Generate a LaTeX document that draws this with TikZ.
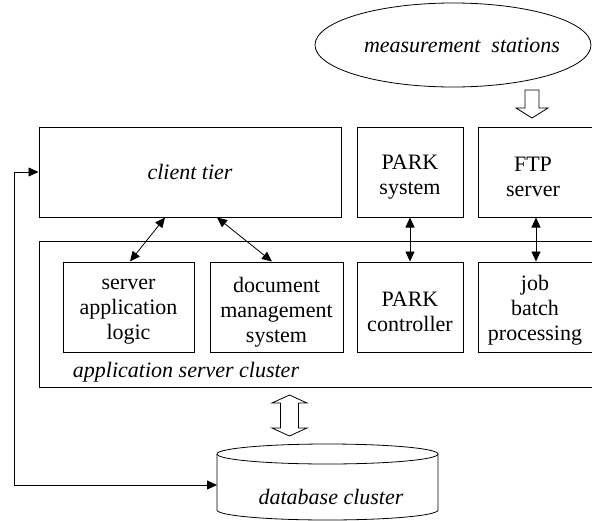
\documentclass[tikz,border=0pt]{standalone}
\usepackage{fontspec}
\setmainfont{Liberation Serif}
\usetikzlibrary{arrows.meta,shapes.geometric}
\begin{document}
\begin{tikzpicture}[x=1pt,y=-1pt,
  every node/.style={font=\fontsize{22}{25}\selectfont},
  box/.style={draw,line width=1pt,rectangle,inner sep=0pt},
  lbl/.style={align=center,inner sep=0pt},
  boxtext/.style={label={[lbl,yshift=-5pt]center:#1}},
  dar/.style={line width=0.8pt,{Triangle[length=10pt,width=9pt]}-{Triangle[length=10pt,width=9pt]}},
  hollow/.style={draw,line width=0.8pt,fill=white,line join=miter}]
\useasboundingbox (0,0) rectangle (592,520);

% top row
\node[box,minimum width=302pt,minimum height=90pt] (client) at (190,172) {\itshape client tier};
\node[box,minimum width=106pt,minimum height=90pt,boxtext={PARK\\system}] (parksys) at (410,172) {};
\node[box,minimum width=122pt,minimum height=90pt] (ftp) at (539,172) {};
\node[lbl] (ftptxt) at (533,177) {FTP\\server};

% application server cluster
\node[box,minimum width=561pt,minimum height=146pt] (cluster) at (319.5,314) {};
\node[lbl] (clustertxt) at (186,372) {\itshape application server cluster};
\node[box,minimum width=131pt,minimum height=90pt,boxtext={server\\application\\logic}] (sal) at (128.5,307) {};
\node[box,minimum width=133pt,minimum height=90pt,boxtext={document\\management\\system}] (dms) at (276.5,307) {};
\node[box,minimum width=106pt,minimum height=90pt,boxtext={PARK\\controller}] (parkctl) at (410,307) {};
\node[box,minimum width=122pt,minimum height=90pt] (job) at (539,307) {};
\node[lbl] (jobtxt) at (535,310) {job\\batch\\processing};

% measurement stations
\node[draw,line width=0.8pt,ellipse,minimum width=276pt,minimum height=84pt,inner sep=0pt] (meas) at (453,45) {};
\node[lbl] (meastxt) at (462,45) {\itshape measurement\ \ stations};

% database cluster (cylinder)
\draw[line width=0.8pt,fill=white] (217,454) -- (217,510) arc[start angle=180,end angle=360,x radius=110.5,y radius=-10] -- (438,454);
\draw[line width=0.8pt] (327.5,454) ellipse[x radius=110.5,y radius=10];
\coordinate (dbin) at (217,485);
\node[lbl] (dbtxt) at (331,497) {\itshape database cluster};

% connectors between tiers
\coordinate (c1) at (165,0);
\coordinate (c2) at (130,0);
\coordinate (c3) at (217,0);
\coordinate (c4) at (272,0);
\coordinate (c5) at (536,0);
\draw[dar] (client.south -| c1) -- (sal.north -| c2);
\draw[dar] (client.south -| c3) -- (dms.north -| c4);
\draw[dar] (parksys.south) -- (parkctl.north);
\draw[dar] (ftp.south -| c5) -- (job.north -| c5);
\draw[dar] (client.west) -- ++(-24,0) |- (dbin);

% hollow arrow: stations to FTP server
\draw[hollow] (525,90) -- (539,90) -- (539,108) -- (548,108) -- (532,118) -- (516,108) -- (525,108) -- cycle;

% hollow double arrow: cluster to database
\draw[hollow] (289.5,395) -- (307,403) -- (298.5,403) -- (298.5,428) -- (307,428) -- (289.5,436)
  -- (272,428) -- (280.5,428) -- (280.5,403) -- (272,403) -- cycle;
\end{tikzpicture}
\end{document}
